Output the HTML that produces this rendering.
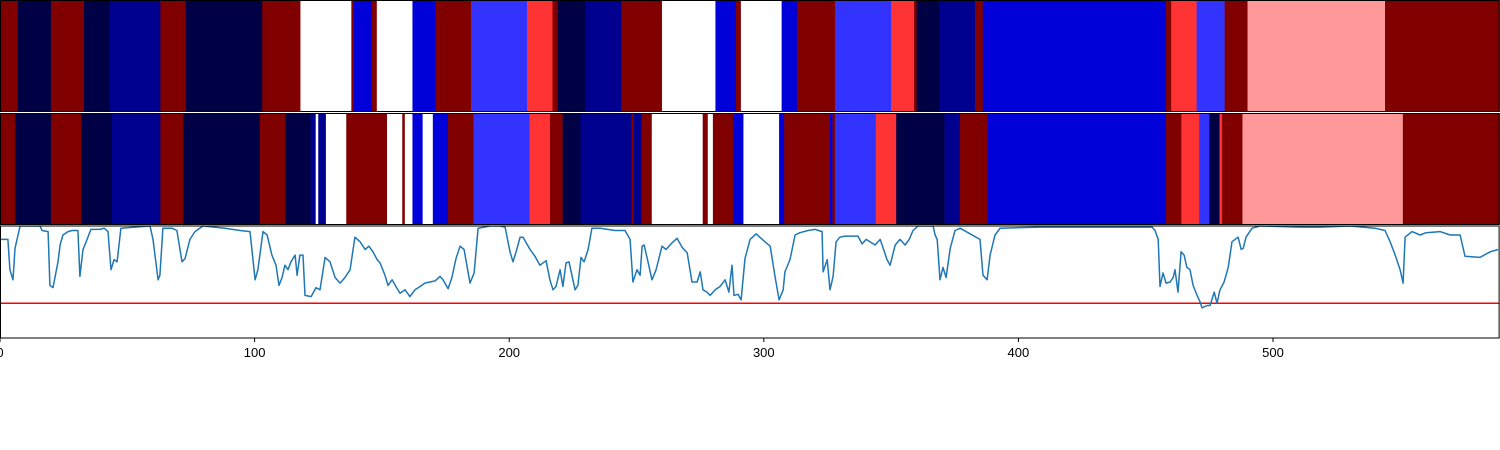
<!DOCTYPE html>
<html><head><meta charset="utf-8"><style>
html,body{margin:0;padding:0;background:#fff;}
svg{display:block;font-family:"Liberation Sans","DejaVu Sans",sans-serif;}
</style></head>
<body>
<svg id="chart" width="1500" height="450" viewBox="0 0 1500 450" xmlns="http://www.w3.org/2000/svg"></svg>
<script>
const palette = {D:'#800000',K:'#000045',N:'#00008e',B:'#0000d8',L:'#3333ff',W:'#ffffff',P:'#ff9999',R:'#ff3333'};
const row1Starts = [0,7,20,33,43,63,73,103,118,138,139,146,148,162,171,185,207,217,219,230,244,260,281,289,291,307,313,328,350,359,360,369,383,386,458,460,470,481,490,544];
const row1Codes = "DKDKNDKDWDBDWBDLRDKNDWBDWBDLRDKNDBDRLDPD";
const row2Starts = [0,6,20,32,44,63,72,102,112,122,124,125,128,136,152,158,159,162,166,170,176,186,208,216,221,228,248,249,252,256,276,278,280,288,292,306,308,326,327,328,344,352,371,377,388,458,464,471,475,479,480,488,551];
const row2Codes = "DKDKNDKDKNWNWDWDWBWBDLRDKNDNDWDWDBWBDBDLRKNDBDRLKRDPD";
const lineX = [0,3.1,3.9,5.1,5.9,7.9,15.7,16.5,18.9,19.6,20.8,22.8,23.6,24.7,26.7,28.3,30.6,31.4,32.6,34.2,35.7,39.3,40.9,42.4,43.6,44.8,46.0,47.5,58.9,60.1,62.1,62.8,64.0,67.6,69.5,71.5,72.7,74.6,76.6,79.7,88.4,94.3,98.2,100.2,101.3,103.3,104.9,106.8,108.4,109.6,110.8,111.9,113.1,114.3,115.9,116.7,117.8,119.0,119.8,122.2,124.1,125.7,127.7,129.6,131.6,133.6,135.5,137.5,139.4,141.4,143.4,144.9,146.5,148.1,149.3,151.2,152.4,154.0,155.5,157.1,159.1,161.0,163.0,165.0,166.9,168.9,170.9,172.8,174.0,176.0,177.5,179.1,180.7,182.3,184.6,186.2,187.8,192.5,196.4,198.4,200.3,201.5,202.7,204.3,205.4,208.2,210.1,212.1,214.5,216.0,217.2,218.4,220.0,221.1,222.3,223.5,225.9,227.0,228.2,229.4,231.0,232.5,235.7,241.6,245.5,247.5,248.6,250.2,251.4,252.2,253.0,254.5,256.1,257.7,260.0,261.6,264.0,265.9,267.9,269.9,271.8,273.8,275.0,276.1,277.7,278.9,280.9,282.8,284.8,286.3,287.5,288.3,289.9,291.1,292.6,294.6,297.0,298.9,300.9,302.5,304.4,306.0,307.6,308.3,310.3,312.3,314.2,317.4,320.1,322.9,323.3,324.9,326.0,327.2,328.4,329.9,331.9,337.0,338.6,340.2,343.7,345.7,348.4,349.6,351.6,353.5,355.5,357.1,358.6,360.6,366.5,367.3,368.1,369.2,370.4,371.6,373.2,375.1,377.1,384.9,386.1,387.7,388.9,390.8,392.8,408.5,452.5,453.7,454.9,455.6,456.8,458.0,459.6,460.8,461.5,462.7,463.9,465.1,466.2,467.4,468.6,470.2,471.4,472.1,474.1,475.3,476.9,478.0,479.2,480.8,482.4,483.9,486.3,487.5,488.3,489.4,491.8,494.9,510.6,518.5,530.3,540.1,544.0,546.0,548.0,549.9,551.1,551.9,554.6,557.8,560.1,565.6,569.6,573.5,575.4,581.3,585.3,588.4];
const lineY = [.88,.88,.61,.52,.80,1.0,1.0,.96,.95,.47,.45,.68,.83,.92,.95,.96,.96,.55,.79,.88,.97,.97,.98,.95,.61,.70,.68,.98,1.0,.88,.52,.56,.98,.98,.96,.68,.71,.88,.95,1.0,.98,.96,.95,.52,.61,.95,.92,.74,.65,.47,.54,.65,.61,.68,.74,.56,.74,.74,.38,.37,.45,.43,.72,.68,.54,.49,.54,.61,.90,.86,.79,.82,.77,.70,.67,.56,.47,.52,.46,.40,.43,.37,.43,.46,.49,.50,.51,.55,.52,.44,.54,.71,.82,.79,.49,.58,.98,1.0,1.0,.99,.77,.68,.77,.90,.90,.79,.73,.65,.69,.52,.43,.46,.61,.46,.67,.68,.43,.47,.72,.68,.79,.98,.98,.96,.96,.88,.50,.61,.56,.82,.83,.68,.52,.61,.82,.79,.85,.89,.81,.76,.50,.50,.59,.43,.41,.38,.43,.46,.52,.41,.65,.38,.39,.34,.71,.88,.93,.89,.85,.82,.55,.34,.43,.59,.70,.92,.94,.96,.97,.95,.59,.70,.43,.55,.86,.90,.91,.91,.84,.88,.83,.88,.70,.65,.83,.88,.83,.88,.96,1.0,1.0,.92,.88,.52,.63,.54,.80,.96,.98,.88,.56,.52,.74,.92,.98,.99,.99,.96,.88,.46,.58,.49,.50,.54,.61,.41,.77,.74,.63,.61,.47,.38,.32,.27,.29,.29,.41,.31,.43,.50,.63,.86,.90,.79,.80,.90,.98,1.0,.99,.99,1.0,.98,.96,.86,.74,.61,.49,.90,.95,.92,.94,.95,.92,.92,.73,.72,.77,.79];
const thresholdValue = 0.31;
const xTicks = [0,100,200,300,400,500];
const xMax = 589, yMin = 0, yMax = 1.0;

const NS = 'http://www.w3.org/2000/svg';
const svg = document.getElementById('chart');
const L0 = 0, R0 = 1499.6;
const xs = v => L0 + (R0 - L0) * v / xMax;
const panels = [{t:0,b:112},{t:113,b:225},{t:226,b:338}];
const ys = v => panels[2].b - (panels[2].b - panels[2].t) * (v - yMin) / (yMax - yMin);
function mk(tag, attrs){const e=document.createElementNS(NS,tag);for(const k in attrs)e.setAttribute(k,attrs[k]);svg.appendChild(e);return e;}

function drawRow(starts, codes, p, name){
  for(let i=0;i<starts.length;i++){
    const x0=xs(starts[i]), x1=xs(i+1<starts.length?starts[i+1]:xMax);
    const r=mk('rect',{x:x0,y:p.t,width:Math.max(0,x1-x0+0.3),height:p.b-p.t,fill:palette[codes[i]]});
    
    
  }
  const f=mk('rect',{x:0.5,y:p.t+0.5,width:1498.6,height:p.b-p.t-1,fill:'none',stroke:'#000','stroke-width':1});
  
  
}
drawRow(row1Starts,row1Codes,panels[0],'heatmap-row-1');
drawRow(row2Starts,row2Codes,panels[1],'heatmap-row-2');

const p=panels[2];
mk('defs',{}).innerHTML='<clipPath id="cp"><rect x="0" y="'+p.t+'" width="1500" height="'+(p.b-p.t)+'"/></clipPath>';
const th=mk('line',{x1:xs(0),x2:xs(xMax),y1:ys(thresholdValue),y2:ys(thresholdValue),stroke:'#ff0000','stroke-width':1.5});


let d='';
for(let i=0;i<lineX.length;i++){d+=(i?'L':'M')+xs(lineX[i]).toFixed(1)+','+ys(lineY[i]).toFixed(1);}
const ln=mk('path',{d:d,fill:'none',stroke:'#1f77b4','stroke-width':1.5,'clip-path':'url(#cp)','stroke-linejoin':'round'});


const fr=mk('rect',{x:0.5,y:p.t,width:1498.6,height:p.b-p.t,fill:'none',stroke:'#000','stroke-width':1});



xTicks.forEach(t=>{
  const tk=mk('line',{x1:xs(t),x2:xs(t),y1:p.b,y2:p.b+4,stroke:'#000','stroke-width':1});
  
  
  const tx=mk('text',{x:xs(t),y:p.b+19,'text-anchor':'middle','font-size':13,fill:'#000'});
  tx.textContent=String(t);
  
  
});
</script>
</body></html>
